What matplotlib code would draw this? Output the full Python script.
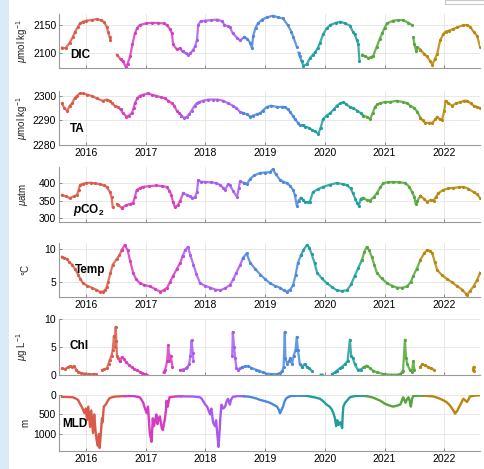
import numpy as np
import matplotlib
matplotlib.use("Agg")
import matplotlib.pyplot as plt
from matplotlib.patches import Rectangle

plt.rcParams['font.family'] = ['Liberation Sans', 'DejaVu Sans']
plt.rcParams['mathtext.fontset'] = 'custom'
plt.rcParams['mathtext.rm'] = 'Liberation Sans'
plt.rcParams['mathtext.it'] = 'Liberation Sans:italic'
plt.rcParams['mathtext.bf'] = 'Liberation Sans:bold'
plt.rcParams['mathtext.bfit'] = 'Liberation Sans:italic:bold'

nan = np.nan

# deployment-year colours (Aug -> Jul)
year_bounds = [2015.5, 2016.57, 2017.6, 2018.6, 2019.6, 2020.62, 2021.6, 2022.7]
year_colors = ['#d95a48', '#d63cc0', '#a85af0', '#4b87da', '#1f9e9c', '#55a63b', '#b8860b']

dic_t = [2015.60, 2015.66, 2015.73, 2015.78, 2015.82, 2015.87, 2015.90, 2015.95, 2016.00, 2016.10,
         2016.18, 2016.25, 2016.30, 2016.35, 2016.37, 2016.40, 2016.41, 2016.46, 2016.52, 2016.58,
         2016.62, 2016.67, 2016.70, 2016.74, 2016.78, 2016.82, 2016.86, 2016.90, 2017.00, 2017.10,
         2017.20, 2017.30, 2017.36, 2017.41, 2017.44, 2017.46, 2017.52, 2017.57, 2017.62, 2017.67,
         2017.71, 2017.75, 2017.79, 2017.83, 2017.86, 2017.88, 2017.92, 2018.00, 2018.10, 2018.20,
         2018.28, 2018.32, 2018.38, 2018.41, 2018.46, 2018.53, 2018.58, 2018.65, 2018.70, 2018.75,
         2018.78, 2018.80, 2018.84, 2018.88, 2018.95, 2019.03, 2019.13, 2019.22, 2019.30, 2019.38,
         2019.44, 2019.47, 2019.53, 2019.545, 2019.56, 2019.58, 2019.61, 2019.64, 2019.70, 2019.75,
         2019.80, 2019.84, 2019.88, 2019.92, 2019.97, 2020.03, 2020.09, 2020.18, 2020.26, 2020.34,
         2020.42, 2020.47, 2020.50, 2020.54, 2020.56, 2020.58, 2020.60, 2020.63, 2020.68, 2020.73,
         2020.78, 2020.81, 2020.87, 2020.92, 2020.96, 2021.00, 2021.04, 2021.14, 2021.22, 2021.31,
         2021.40, 2021.46, 2021.47, 2021.48, 2021.50, 2021.53, 2021.55, 2021.60, 2021.66, 2021.71,
         2021.76, 2021.80, 2021.84, 2021.88, 2021.93, 2021.98, 2022.02, 2022.08, 2022.15, 2022.22,
         2022.32, 2022.38, 2022.43, 2022.49, 2022.55, 2022.60]
dic_v = [2109, 2108, 2118, 2128, 2138, 2147, 2153, 2156, 2158, 2159,
         2161, 2159, 2156, 2147, 2138, 2128, 2122, nan, 2096, 2088,
         2084, 2074, 2080, 2093, 2115, 2135, 2145, 2150, 2153, 2154,
         2154, 2153, 2150, 2142, 2135, 2115, 2106, 2108, 2102, 2099,
         2096, 2099, 2104, 2112, 2123, 2150, 2157, 2158, 2159, 2160,
         2157, 2150, 2148, 2146, 2135, 2127, 2122, 2128, 2125, 2118,
         2108, 2130, 2145, 2153, 2160, 2164, 2167, 2164, 2162, 2150,
         2138, 2129, 2111, nan, 2100, 2093, 2085, 2076, 2079, 2090,
         2096, 2101, 2108, 2118, 2133, 2144, 2150, 2154, 2156, 2153,
         2149, 2138, 2133, 2122, 2115, 2085, nan, 2096, 2093, 2090,
         2092, 2094, 2111, 2125, 2135, 2145, 2153, 2158, 2159, 2159,
         2154, 2150, nan, 2128, 2115, 2102, 2110, 2105, 2098, 2093,
         2085, 2078, 2088, 2097, 2122, 2133, 2138, 2140, 2143, 2146,
         2150, 2150, 2147, 2138, 2130, 2110]

ta_t = [2015.60, 2015.64, 2015.69, 2015.73, 2015.77, 2015.81, 2015.85, 2015.90, 2015.96, 2016.02,
        2016.10, 2016.18, 2016.28, 2016.35, 2016.40, 2016.44, 2016.48, 2016.54, 2016.58, 2016.62,
        2016.68, 2016.72, 2016.77, 2016.80, 2016.82, 2016.86, 2016.90, 2016.96, 2017.04, 2017.10,
        2017.18, 2017.25, 2017.32, 2017.38, 2017.44, 2017.48, 2017.52, 2017.56, 2017.60, 2017.64,
        2017.69, 2017.73, 2017.77, 2017.82, 2017.86, 2017.90, 2017.96, 2018.05, 2018.13, 2018.20,
        2018.30, 2018.38, 2018.46, 2018.52, 2018.58, 2018.63, 2018.70, 2018.75, 2018.80, 2018.86,
        2018.92, 2018.96, 2019.03, 2019.10, 2019.20, 2019.28, 2019.33, 2019.38, 2019.42, 2019.46,
        2019.50, 2019.55, 2019.58, 2019.63, 2019.67, 2019.73, 2019.79, 2019.84, 2019.89, 2019.93,
        2019.97, 2020.03, 2020.09, 2020.15, 2020.20, 2020.26, 2020.31, 2020.36, 2020.42, 2020.48,
        2020.54, 2020.60, 2020.64, 2020.70, 2020.76, 2020.80, 2020.84, 2020.88, 2020.93, 2021.00,
        2021.09, 2021.20, 2021.31, 2021.38, 2021.43, 2021.50, 2021.55, 2021.60, 2021.64, 2021.68,
        2021.74, 2021.80, 2021.85, 2021.88, 2021.92, 2021.96, 2022.00, 2022.02, 2022.07, 2022.13,
        2022.20, 2022.27, 2022.33, 2022.38, 2022.44, 2022.49, 2022.55, 2022.60]
ta_v = [2297, 2295, 2294, 2296, 2297, 2299, 2300, 2301, 2301, 2300.5,
        2300, 2299, 2298, 2298.5, 2298, 2297, 2296, 2295.5, 2294.5, 2293,
        2291.5, 2292, 2293, 2295, 2297, 2299, 2300, 2300.5, 2301, 2300.5,
        2300, 2299.5, 2299, 2298, 2297, 2296, 2294, 2293, 2292, 2291,
        2291.5, 2292.5, 2294, 2296, 2297, 2297.5, 2298, 2298.5, 2298.5, 2298.5,
        2298, 2297, 2296, 2295, 2293.5, 2293, 2292.5, 2291.5, 2292, 2292.5,
        2293, 2294, 2295.5, 2296, 2295.5, 2295.5, 2295.5, 2294.5, 2293.5, 2292,
        2290.5, 2289, 2288, 2288, 2287.5, 2287, 2286, 2285.5, 2284.5, 2287,
        2290.5, 2292, 2293, 2294.5, 2296, 2297, 2297.5, 2296.5, 2295.5, 2295,
        2294, 2293, 2292, 2291.5, 2290.5, 2293, 2295.5, 2296.5, 2297, 2297.5,
        2297.5, 2298, 2297.5, 2297, 2296, 2295, 2293.5, 2291, 2290, 2289,
        2289, 2289, 2290.5, 2291.5, 2290.5, 2290, 2294, 2298, 2297, 2296,
        2297, 2297.5, 2298, 2298, 2297, 2296, 2295.5, 2295]

pco2_t = [2015.60, 2015.66, 2015.73, 2015.80, 2015.85, 2015.88, 2015.90, 2015.95, 2016.00, 2016.08,
          2016.15, 2016.23, 2016.30, 2016.35, 2016.40, 2016.43, 2016.45, 2016.49, 2016.52, 2016.54,
          2016.60, 2016.68, 2016.74, 2016.79, 2016.82, 2016.85, 2016.90, 2016.95, 2017.05, 2017.18,
          2017.28, 2017.35, 2017.40, 2017.43, 2017.46, 2017.49, 2017.54, 2017.58, 2017.63, 2017.69,
          2017.74, 2017.78, 2017.83, 2017.86, 2017.88, 2017.92, 2018.00, 2018.10, 2018.18, 2018.25,
          2018.30, 2018.33, 2018.38, 2018.41, 2018.47, 2018.53, 2018.56, 2018.58, 2018.65, 2018.70,
          2018.75, 2018.82, 2018.92, 2019.00, 2019.08, 2019.13, 2019.18, 2019.25, 2019.30, 2019.36,
          2019.42, 2019.47, 2019.50, 2019.53, 2019.56, 2019.60, 2019.64, 2019.67, 2019.72, 2019.75,
          2019.80, 2019.88, 2019.97, 2020.08, 2020.20, 2020.30, 2020.37, 2020.43, 2020.47, 2020.51,
          2020.54, 2020.57, 2020.60, 2020.64, 2020.70, 2020.76, 2020.82, 2020.87, 2020.93, 2020.98,
          2021.05, 2021.14, 2021.25, 2021.35, 2021.41, 2021.46, 2021.50, 2021.52, 2021.55, 2021.60,
          2021.66, 2021.71, 2021.77, 2021.82, 2021.86, 2021.90, 2021.98, 2022.07, 2022.15, 2022.25,
          2022.32, 2022.40, 2022.49, 2022.55, 2022.60]
pco2_v = [366, 362, 357, 362, 366, 380, 394, 398, 400, 401,
          399, 397, 393, 389, 375, 360, 331, nan, 340, 337,
          329, 337, 340, 343, 360, 380, 385, 389, 391, 393,
          391, 389, 378, 366, 345, 331, 337, 350, 371, 366,
          362, 357, 360, 375, 408, 404, 403, 402, 400, 394,
          386, 380, 397, 394, 376, 360, 385, 405, 400, 398,
          412, 422, 429, 430, 431, 440, 425, 409, 404, 400,
          392, 380, 365, 335, 350, 357, 352, 345, 346, 347,
          374, 382, 389, 395, 400, 397, 394, 385, 371, 355,
          343, 335, 355, 357, 352, 350, 360, 371, 388, 400,
          402, 403, 402, 400, 390, 374, 360, 340, 350, 363,
          355, 346, 352, 350, 360, 371, 380, 385, 386, 388,
          389, 384, 374, 368, 357]

temp_t = [2015.60, 2015.64, 2015.68, 2015.72, 2015.77, 2015.82, 2015.87, 2015.91, 2015.95, 2016.02,
          2016.10, 2016.17, 2016.23, 2016.28, 2016.32, 2016.35, 2016.37, 2016.41, 2016.45, 2016.52,
          2016.56, 2016.60, 2016.65, 2016.70, 2016.74, 2016.79, 2016.84, 2016.90, 2016.98, 2017.07,
          2017.16, 2017.24, 2017.30, 2017.36, 2017.41, 2017.46, 2017.52, 2017.58, 2017.62, 2017.66,
          2017.71, 2017.75, 2017.80, 2017.85, 2017.91, 2017.99, 2018.08, 2018.17, 2018.25, 2018.33,
          2018.41, 2018.47, 2018.52, 2018.58, 2018.63, 2018.69, 2018.75, 2018.83, 2018.92, 2019.00,
          2019.08, 2019.16, 2019.25, 2019.31, 2019.36, 2019.42, 2019.47, 2019.51, 2019.55, 2019.60,
          2019.64, 2019.70, 2019.74, 2019.78, 2019.83, 2019.87, 2019.95, 2020.03, 2020.12, 2020.20,
          2020.28, 2020.37, 2020.44, 2020.50, 2020.56, 2020.62, 2020.66, 2020.70, 2020.74, 2020.79,
          2020.83, 2020.87, 2020.95, 2021.04, 2021.12, 2021.21, 2021.30, 2021.38, 2021.44, 2021.48,
          2021.54, 2021.60, 2021.66, 2021.71, 2021.76, 2021.80, 2021.84, 2021.88, 2021.96, 2022.05,
          2022.13, 2022.22, 2022.30, 2022.36, 2022.38, 2022.43, 2022.49, 2022.55, 2022.60]
temp_v = [8.8, 8.6, 8.5, 8.0, 7.6, 6.9, 6.1, 5.4, 4.8, 4.4,
          4.1, 3.8, 3.5, 3.5, 3.7, 4.2, 4.9, 6.3, 7.6, 8.5,
          9.0, 9.8, 10.6, 9.8, 8.2, 6.4, 5.4, 4.8, 4.5, 4.3,
          3.9, 3.5, 3.7, 4.1, 5.0, 5.9, 6.9, 7.9, 8.9, 9.8,
          10.3, 9.0, 7.6, 6.2, 4.8, 4.4, 4.1, 3.8, 3.7, 4.0,
          4.5, 5.4, 6.4, 7.5, 8.6, 9.3, 7.9, 7.0, 6.1, 5.4,
          4.8, 4.4, 4.1, 3.7, 3.5, 3.8, 4.5, 6.0, 7.9, 9.0,
          9.8, 10.6, 10.2, 9.2, 7.8, 6.4, 5.5, 4.8, 4.2, 3.7,
          3.6, 3.7, 4.6, 5.9, 7.1, 8.3, 9.5, 10.3, 9.8, 8.7,
          7.5, 6.4, 5.5, 4.8, 4.4, 4.1, 4.1, 4.3, 5.0, 5.9,
          7.0, 8.3, 9.3, 9.8, 9.7, 9.3, 8.0, 6.8, 6.0, 5.4,
          4.9, 4.3, 3.8, 3.2, 3.0, 3.6, 4.3, 5.3, 6.4]

chl_t = [2015.60, 2015.65, 2015.70, 2015.73, 2015.77, 2015.80, 2015.84, 2015.87, 2015.92, 2015.97,
         2016.05, 2016.12, 2016.17, 2016.22, 2016.27, 2016.31, 2016.35, 2016.38, 2016.40, 2016.43,
         2016.45, 2016.47, 2016.48, 2016.50, 2016.51, 2016.52, 2016.54, 2016.57, 2016.60, 2016.64,
         2016.68, 2016.72, 2016.77, 2016.81, 2016.85, 2016.90, 2016.94, 2016.98, 2017.02, 2017.15,
         2017.30, 2017.33, 2017.36, 2017.38, 2017.40, 2017.42, 2017.45, 2017.50, 2017.58, 2017.63,
         2017.67, 2017.70, 2017.73, 2017.75, 2017.77, 2017.79, 2017.80, 2017.90, 2018.45, 2018.46,
         2018.48, 2018.50, 2018.52, 2018.55, 2018.58, 2018.62, 2018.67, 2018.72, 2018.77, 2018.84,
         2018.90, 2018.96, 2019.02, 2019.10, 2019.20, 2019.25, 2019.29, 2019.31, 2019.33, 2019.34,
         2019.37, 2019.40, 2019.42, 2019.45, 2019.48, 2019.51, 2019.53, 2019.55, 2019.58, 2019.62,
         2019.66, 2019.70, 2019.74, 2019.78, 2019.86, 2019.93, 2019.96, 2020.03, 2020.12, 2020.17,
         2020.20, 2020.25, 2020.29, 2020.34, 2020.38, 2020.42, 2020.44, 2020.47, 2020.50, 2020.55,
         2020.60, 2020.65, 2020.70, 2020.75, 2020.81, 2020.88, 2020.98, 2021.10, 2021.21, 2021.26,
         2021.29, 2021.31, 2021.34, 2021.36, 2021.38, 2021.42, 2021.46, 2021.48, 2021.50, 2021.55,
         2021.60, 2021.63, 2021.67, 2021.72, 2021.77, 2021.82, 2021.90, 2022.48, 2022.49, 2022.50]
chl_v = [1.2, 1.1, 1.4, 1.6, 1.5, 1.6, 1.0, 0.6, 0.4, 0.3,
         0.2, 0.15, 0.2, nan, 0.9, 1.1, 1.2, 2.0, 2.7, 3.5,
         4.5, 7.0, 5.0, 8.6, 6.0, 3.5, 3.0, 2.5, 3.2, 2.8,
         2.3, 1.8, 1.4, 1.1, 0.9, 0.6, 0.4, 0.2, 0.1, nan,
         0.5, 1.0, 2.5, 5.3, 2.5, 3.5, 1.5, nan, 0.9, 1.0,
         1.2, 1.4, 2.0, 3.5, 6.2, 4.0, 2.5, nan, 3.5, 7.7,
         5.0, 3.0, 1.2, 1.0, 1.2, 1.4, 1.6, 1.6, 1.3, 1.0,
         0.8, 0.5, 0.3, 0.2, 0.2, 0.4, 0.8, 1.5, 7.7, 3.0,
         2.0, 2.5, 3.0, 2.0, 3.5, 4.5, 6.8, 4.5, 2.0, 1.5,
         2.0, 1.5, 1.2, 0.8, nan, 0.1, 0.1, nan, 0.2, 0.5,
         0.8, 1.2, 1.5, 2.0, 2.5, 6.3, 3.5, 3.0, 2.0, 1.0,
         1.0, 1.4, 1.7, 1.3, 0.8, 0.5, 0.2, 0.1, 0.1, 0.2,
         0.5, 0.8, 6.3, 3.0, 2.0, 1.0, 0.6, 2.5, 1.0, nan,
         1.5, 2.0, 1.8, 1.5, 1.2, 1.0, nan, 1.0, 1.5, 0.7]

mld_t = [2015.60, 2015.70, 2015.78, 2015.84, 2015.87, 2015.91, 2015.93, 2015.96, 2015.98, 2016.00,
         2016.02, 2016.04, 2016.07, 2016.09, 2016.12, 2016.14, 2016.16, 2016.18, 2016.20, 2016.22,
         2016.23, 2016.25, 2016.27, 2016.28, 2016.30, 2016.33, 2016.35, 2016.38, 2016.40, 2016.46,
         2016.52, 2016.65, 2016.80, 2016.90, 2016.93, 2016.96, 2016.99, 2017.02, 2017.04, 2017.07,
         2017.10, 2017.12, 2017.14, 2017.16, 2017.18, 2017.20, 2017.22, 2017.24, 2017.27, 2017.29,
         2017.31, 2017.32, 2017.34, 2017.35, 2017.37, 2017.40, 2017.50, 2017.60, 2017.70, 2017.78,
         2017.85, 2017.91, 2017.94, 2017.96, 2018.00, 2018.03, 2018.06, 2018.08, 2018.10, 2018.13,
         2018.16, 2018.18, 2018.20, 2018.22, 2018.24, 2018.25, 2018.27, 2018.30, 2018.33, 2018.36,
         2018.38, 2018.41, 2018.43, 2018.46, 2018.55, 2018.65, 2018.75, 2018.85, 2018.92, 2019.00,
         2019.08, 2019.14, 2019.20, 2019.23, 2019.25, 2019.27, 2019.30, 2019.33, 2019.36, 2019.42,
         2019.55, 2019.70, 2019.75, 2019.85, 2019.92, 2019.98, 2020.03, 2020.08, 2020.12, 2020.15,
         2020.17, 2020.19, 2020.21, 2020.23, 2020.26, 2020.29, 2020.30, 2020.31, 2020.34, 2020.37,
         2020.42, 2020.50, 2020.60, 2020.70, 2020.81, 2020.87, 2020.93, 2021.00, 2021.04, 2021.10,
         2021.14, 2021.20, 2021.26, 2021.29, 2021.31, 2021.33, 2021.35, 2021.38, 2021.40, 2021.42,
         2021.44, 2021.46, 2021.48, 2021.55, 2021.65, 2021.75, 2021.82, 2021.88, 2021.93, 2022.00,
         2022.05, 2022.10, 2022.13, 2022.16, 2022.18, 2022.20, 2022.22, 2022.25, 2022.27, 2022.30,
         2022.32, 2022.35, 2022.38, 2022.41, 2022.43, 2022.50, 2022.60]
mld_v = [50, 55, 60, 100, 130, 250, 300, 400, 470, 350,
         640, 300, 820, 400, 975, 500, 900, 1150, 1300, 1000,
         1360, 1000, 600, 700, 300, 250, 200, 120, 80, 50,
         40, 30, 30, 60, 120, 200, 350, 470, 300, 975,
         1200, 600, 800, 650, 500, 750, 600, 550, 850, 900,
         700, 650, 400, 150, 300, 60, 40, 35, 40, 40,
         50, 60, 100, 150, 250, 300, 420, 500, 350, 700,
         800, 650, 1000, 1330, 900, 600, 250, 350, 300, 150,
         100, 250, 120, 50, 30, 35, 50, 90, 130, 160,
         200, 250, 300, 380, 470, 400, 300, 150, 80, 30,
         20, 25, 40, 70, 100, 170, 250, 300, 380, 500,
         600, 800, 650, 770, 700, 850, 500, 300, 200, 150,
         60, 30, 20, 30, 70, 110, 150, 220, 250, 280,
         300, 280, 250, 150, 60, 120, 200, 100, 60, 150,
         300, 100, 30, 20, 20, 30, 40, 70, 100, 150,
         200, 280, 350, 420, 480, 440, 400, 300, 250, 150,
         100, 140, 180, 100, 40, 20, 10]

panels = [
    (dic_t, dic_v, (2072, 2170), [2100, 2150], r'$\mu$mol kg$^{-1}$', 'DIC', (0.026, 0.24), False, True),
    (ta_t, ta_v, (2280, 2302), [2280, 2290, 2300], r'$\mu$mol kg$^{-1}$', 'TA', (0.026, 0.30), True, True),
    (pco2_t, pco2_v, (289, 446), [300, 350, 400], r'$\mu$atm', r'$\mathbfit{p}\mathbf{CO_2}$', (0.033, 0.22), False, True),
    (temp_t, temp_v, (2.7, 10.9), [5, 10], '°C', 'Temp', (0.038, 0.50), True, True),
    (chl_t, chl_v, (0, 10), [0, 5, 10], r'$\mu$g L$^{-1}$', 'Chl', (0.026, 0.52), False, True),
    (mld_t, mld_v, (1440, 0), [0, 500, 1000], 'm', 'MLD', (0.007, 0.48), True, False),
]

# axes positions in figure fraction: (bottom, top)
rows = [(0.855, 0.970), (0.691, 0.806), (0.527, 0.644), (0.367, 0.482), (0.200, 0.320), (0.038, 0.158)]

fig = plt.figure(figsize=(4.85, 4.69), dpi=100)
fig.patches.append(Rectangle((0, 0), 9 / 485, 1, transform=fig.transFigure,
                             facecolor='#dce9f6', edgecolor='none', zorder=0))
fig.patches.append(Rectangle((445 / 485, 1 - 4 / 469), 40 / 485, 4 / 469, transform=fig.transFigure,
                             facecolor='white', edgecolor='#c8c8c8', lw=0.8, zorder=0))

for (t, v, ylim, yticks, ylab, name, npos, show_x, dots), (b, top) in zip(panels, rows):
    ax = fig.add_axes([0.1216, b, 0.99 - 0.1216, top - b])
    t = np.array(t)
    v = np.array(v, dtype=float)
    for j in range(len(year_colors)):
        idx = np.where((t >= year_bounds[j]) & (t < year_bounds[j + 1]))[0]
        if len(idx) == 0:
            continue
        if idx[-1] + 1 < len(t):
            idx = np.append(idx, idx[-1] + 1)
        if dots:
            ax.plot(t[idx], v[idx], '-', color=year_colors[j], lw=1.6, alpha=0.85)
            ax.plot(t[idx], v[idx], '.', color=year_colors[j], ms=2.5)
        else:
            ax.plot(t[idx], v[idx], '-', color=year_colors[j], lw=1.7)
    ax.set_xlim(2015.55, 2022.6)
    ax.set_ylim(*ylim)
    ax.set_yticks(yticks)
    ax.set_xticks([2016, 2017, 2018, 2019, 2020, 2021, 2022])
    if show_x:
        ax.set_xticklabels(['2016', '2017', '2018', '2019', '2020', '2021', '2022'])
    else:
        ax.set_xticklabels([])
    ax.grid(True, color='#e4e4e4', lw=0.6)
    ax.set_axisbelow(True)
    for s in ['top', 'right']:
        ax.spines[s].set_visible(False)
    for s in ['left', 'bottom']:
        ax.spines[s].set_color('#9a9a9a')
        ax.spines[s].set_linewidth(0.8)
    ax.tick_params(direction='in', length=2.5, width=0.6, color='#777777', labelsize=7.5, pad=2)
    ax.set_ylabel(ylab, fontsize=7, labelpad=2, color='#222222')
    ax.yaxis.set_label_coords(-0.068, 0.5)
    ax.text(npos[0], npos[1], name, transform=ax.transAxes, fontsize=8.5,
            fontweight='bold', va='center', ha='left')

fig.savefig('out.png', dpi=100)
